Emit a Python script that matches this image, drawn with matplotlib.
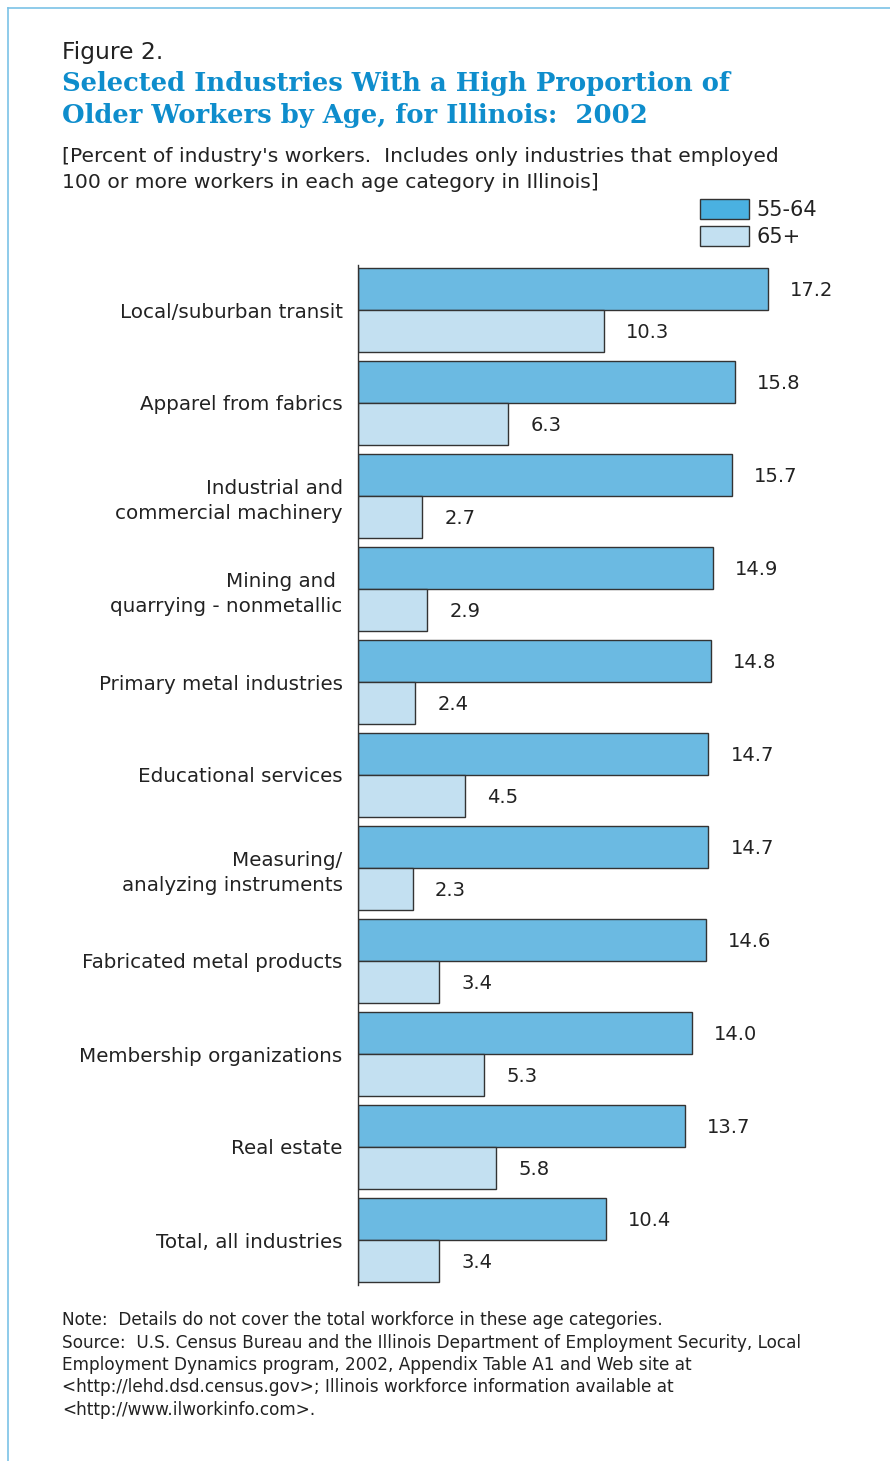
import matplotlib
matplotlib.use("Agg")
import matplotlib.pyplot as plt
from matplotlib.lines import Line2D
from matplotlib.patches import Patch
import numpy as np

categories = [
    "Local/suburban transit",
    "Apparel from fabrics",
    "Industrial and\ncommercial machinery",
    "Mining and \nquarrying - nonmetallic",
    "Primary metal industries",
    "Educational services",
    "Measuring/\nanalyzing instruments",
    "Fabricated metal products",
    "Membership organizations",
    "Real estate",
    "Total, all industries",
]
age_55_64 = [17.2, 15.8, 15.7, 14.9, 14.8, 14.7, 14.7, 14.6, 14.0, 13.7, 10.4]
age_65_plus = [10.3, 6.3, 2.7, 2.9, 2.4, 4.5, 2.3, 3.4, 5.3, 5.8, 3.4]
series_labels = ["55-64", "65+"]

W, H = 890, 1461
fig = plt.figure(figsize=(W / 100, H / 100), dpi=100)
plt.rcParams['font.family'] = ['DejaVu Sans']

def fx(px):
    return px / W

def fy(py):
    return 1 - py / H

c1 = "#6bbae2"
c2 = "#c3e0f1"
c1_leg = "#4ab1e1"
edge = "#333333"
blue_title = "#0e8dcc"
txt = "#222222"

# axes placement
ax_left, ax_right = 358, 880
ax_top, ax_bot = 265, 1285
ax = fig.add_axes([fx(ax_left), fy(ax_bot), fx(ax_right - ax_left), (ax_bot - ax_top) / H])
px_per_unit = (768 - 358) / 17.2
ax.set_xlim(0, (ax_right - ax_left) / px_per_unit)
n = len(categories)
grp = 93.0
ax.set_ylim((ax_bot - 310) / grp, (ax_top - 310) / grp)

y = np.arange(n)
bh = 42 / grp
b1 = ax.barh(y - bh / 2, age_55_64, height=bh, color=c1, edgecolor=edge, linewidth=1.0, label=series_labels[0])
b2 = ax.barh(y + bh / 2, age_65_plus, height=bh, color=c2, edgecolor=edge, linewidth=1.0, label=series_labels[1])

off = 22 / px_per_unit
for yi, v in zip(y, age_55_64):
    ax.text(v + off, yi - bh / 2 + 0.02, f"{v:.1f}", va="center", ha="left", fontsize=14, color=txt)
for yi, v in zip(y, age_65_plus):
    ax.text(v + off, yi + bh / 2 + 0.02, f"{v:.1f}", va="center", ha="left", fontsize=14, color=txt)

ax.set_yticks(y)
ax.set_yticklabels(categories, fontsize=14.3, color=txt, ha="right", multialignment="right",
                   linespacing=1.4)
ax.tick_params(axis="y", length=0, pad=11)
ax.set_xticks([])
for s in ["top", "right", "bottom"]:
    ax.spines[s].set_visible(False)
ax.spines["left"].set_color(edge)
ax.spines["left"].set_linewidth(1.0)
ax.set_facecolor("none")

# legend
handles = [Patch(facecolor=c1_leg, edgecolor=edge, linewidth=1.0),
           Patch(facecolor=c2, edgecolor=edge, linewidth=1.0)]
fig.legend(handles=handles, labels=series_labels, loc="upper left",
           bbox_to_anchor=(fx(700), fy(199)), frameon=False, fontsize=15,
           handlelength=2.35, handleheight=1.1, handletextpad=0.35, labelspacing=0.3,
           borderpad=0, borderaxespad=0, labelcolor=txt)

# titles
fig.text(fx(62), fy(53), "Figure 2.", fontsize=16.8, color=txt, va="center", ha="left")
fig.text(fx(62), fy(84), "Selected Industries With a High Proportion of", fontsize=18.6,
         fontweight="bold", family="DejaVu Serif", color=blue_title, va="center", ha="left")
fig.text(fx(62), fy(116), "Older Workers by Age, for Illinois:  2002", fontsize=18.6,
         fontweight="bold", family="DejaVu Serif", color=blue_title, va="center", ha="left")
fig.text(fx(62), fy(156), "[Percent of industry's workers.  Includes only industries that employed",
         fontsize=14.6, color=txt, va="center", ha="left")
fig.text(fx(62), fy(182), "100 or more workers in each age category in Illinois]",
         fontsize=14.6, color=txt, va="center", ha="left")

notes = [
    "Note:  Details do not cover the total workforce in these age categories.",
    "Source:  U.S. Census Bureau and the Illinois Department of Employment Security, Local",
    "Employment Dynamics program, 2002, Appendix Table A1 and Web site at",
    "<http://lehd.dsd.census.gov>; Illinois workforce information available at",
    "<http://www.ilworkinfo.com>.",
]
for i, line in enumerate(notes):
    fig.text(fx(62), fy(1320 + 22.5 * i), line, fontsize=12.2, color=txt, va="center", ha="left")

# border
border = "#7cc2e6"
fig.add_artist(Line2D([fx(8), 1], [fy(8), fy(8)], color=border, lw=1.2, transform=fig.transFigure))
fig.add_artist(Line2D([fx(8), fx(8)], [fy(8), 0], color=border, lw=1.2, transform=fig.transFigure))

fig.savefig("out.png", dpi=100, facecolor="white")
